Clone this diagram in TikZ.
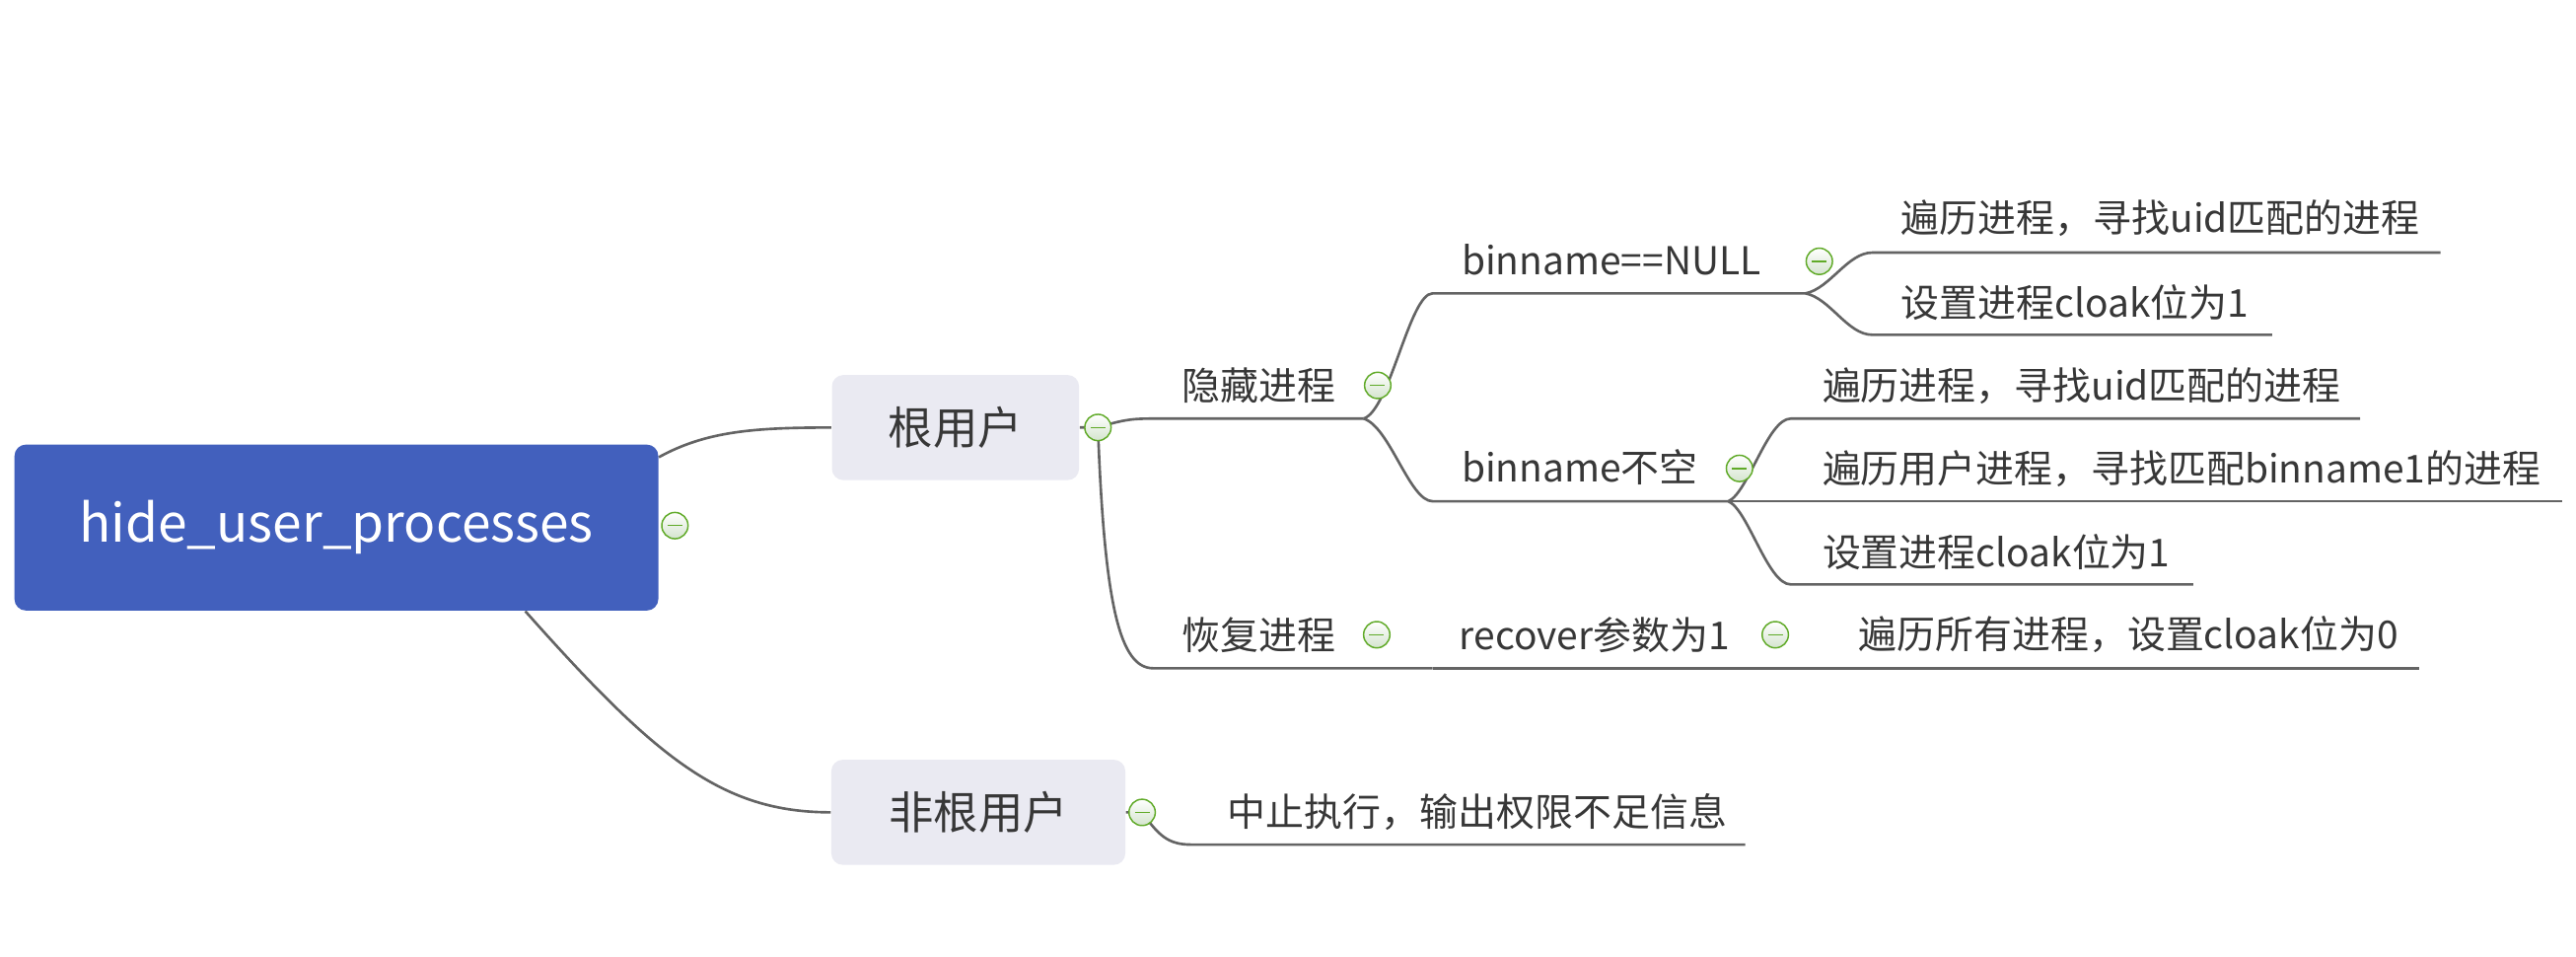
\documentclass[tikz,border=0pt]{standalone}
\usepackage{fontspec}
\setmainfont{Noto Sans CJK SC}
\usetikzlibrary{backgrounds}
\definecolor{xmblue}{RGB}{66, 96, 189}
\definecolor{xmpale}{RGB}{234, 234, 242}
\definecolor{xmline}{RGB}{100, 100, 100}
\definecolor{xmtext}{RGB}{55, 55, 55}
\definecolor{xmgreen}{RGB}{96, 170, 40}
\definecolor{xmshade}{RGB}{212, 228, 206}

\begin{document}
\begin{tikzpicture}[x=0.02cm, y=-0.02cm,
  link/.style={draw=xmline, line width=0.9pt},
  central/.style={fill=xmblue, rounded corners=0.14cm, minimum width=7.84cm, minimum height=2.02cm, text=white, font=\fontsize{18.2}{22}\selectfont},
  mainbox/.style={fill=xmpale, rounded corners=0.14cm, minimum height=1.28cm, text=xmtext, font=\fontsize{15.5}{18}\selectfont},
  topic/.style={anchor=west, inner sep=0pt, text=xmtext, font=\fontsize{13.3}{15}\selectfont},
  collapse/.style={circle, draw=xmgreen, line width=0.5pt, top color=white, bottom color=xmshade,
    minimum size=0.32cm, inner sep=0pt,
    path picture={\draw[xmgreen, line width=0.5pt] ([xshift=-0.09cm]path picture bounding box.center) -- ([xshift=0.09cm]path picture bounding box.center);}}]

\useasboundingbox (0,0) rectangle (1568,582);

% central topic and the two user cases
\node[central] (root) at (204.75,321) {hide\_user\_processes};
\node[mainbox, minimum width=3.01cm] (rootuser) at (581.6,260.15) {根用户};
\node[mainbox, minimum width=3.58cm] (nonroot) at (595.5,494.25) {非根用户};

% root user: hide / recover
\node[topic] (hide) at (719,234.5) {隐藏进程};
\node[topic] (recv) at (719,386.2) {恢复进程};
\node[topic] (null) at (889.4,158) {binname==NULL};
\node[topic] (nonnull) at (889.4,284.2) {binname不空};
\node[topic] (recarg) at (888,386.2) {recover参数为1};
\node[topic] (zero) at (1131,386.2) {遍历所有进程，设置cloak位为0};

% binname==NULL
\node[topic] (uid1) at (1157,133) {遍历进程，寻找uid匹配的进程};
\node[topic] (set1) at (1157,184) {设置进程cloak位为1};

% binname not empty
\node[topic] (uid2) at (1109,235) {遍历进程，寻找uid匹配的进程};
\node[topic] (bin) at (1109,285) {遍历用户进程，寻找匹配binname1的进程};
\node[topic] (set2) at (1109,336) {设置进程cloak位为1};

% non-root user
\node[topic] (abort) at (747,494.3) {中止执行，输出权限不足信息};

% underline ends
\coordinate (hide-l) at (702,254.7);   \coordinate (hide-r) at (830,254.7);
\coordinate (recv-l) at (702,406.6);   \coordinate (recv-r) at (872,406.6);
\coordinate (null-l) at (872,178.5);   \coordinate (null-r) at (1099,178.5);
\coordinate (nonnull-l) at (872,305);  \coordinate (nonnull-r) at (1052,305);
\coordinate (recarg-r) at (1100,406.6);
\coordinate (zero-r) at (1472.4,406.6);
\coordinate (uid1-l) at (1139.6,153.7); \coordinate (uid1-r) at (1485.5,153.7);
\coordinate (set1-l) at (1139.6,203.7); \coordinate (set1-r) at (1383,203.7);
\coordinate (uid2-l) at (1090,254.7);  \coordinate (uid2-r) at (1436.6,254.7);
\coordinate (bin-r) at (1559.6,305);
\coordinate (set2-l) at (1090,355.6);  \coordinate (set2-r) at (1335,355.6);
\coordinate (abort-l) at (725,513.9);  \coordinate (abort-r) at (1062.3,513.9);

% collapse marks
\node[collapse] (c0) at (410.8,319.8) {};
\node[collapse] (c1) at (668.3,260.1) {};
\node[collapse] (c2) at (695.2,494.3) {};
\node[collapse] (c3) at (838.6,234.5) {};
\node[collapse] (c4) at (838,386.2) {};
\node[collapse] (c5) at (1107.4,159) {};
\node[collapse] (c6) at (1058.8,285) {};
\node[collapse] (c7) at (1080.6,386.2) {};

\begin{pgfonlayer}{background}
% branches
\draw[link] ([yshift=-0.16cm]root.north east) .. controls +(29,-16) and +(-46,0) .. (rootuser.west);
\draw[link] ([xshift=2.3cm]root.south) .. controls +(80,90) and +(-66,0) .. (nonroot.west);
\draw[link] (rootuser) -- (c1.center);
\draw[link] (nonroot) -- (c2.center);

\draw[link] (c1.center) .. controls +(16,-5) and +(-12,0) .. (hide-l) -- (hide-r);
\draw[link] (c1.center) .. controls +(4,110) and +(-20,0) .. (recv-l) -- (recv-r);
\draw[link] (recv-r) -- (recarg-r) -- (zero-r);

\draw[link] (hide-r) .. controls +(16,-5) and +(-14,0) .. (null-l) -- (null-r);
\draw[link] (hide-r) .. controls +(16,5) and +(-14,0) .. (nonnull-l) -- (nonnull-r);

\draw[link] (null-r) .. controls +(15,-3) and +(-15,0) .. (uid1-l) -- (uid1-r);
\draw[link] (null-r) .. controls +(15,3) and +(-15,0) .. (set1-l) -- (set1-r);

\draw[link] (nonnull-r) .. controls +(12,-5) and +(-14,0) .. (uid2-l) -- (uid2-r);
\draw[link] (nonnull-r) -- (bin-r);
\draw[link] (nonnull-r) .. controls +(12,5) and +(-14,0) .. (set2-l) -- (set2-r);

\draw[link] (c2.center) .. controls +(10,14) and +(-14,0) .. (abort-l) -- (abort-r);
\end{pgfonlayer}
\end{tikzpicture}
\end{document}
